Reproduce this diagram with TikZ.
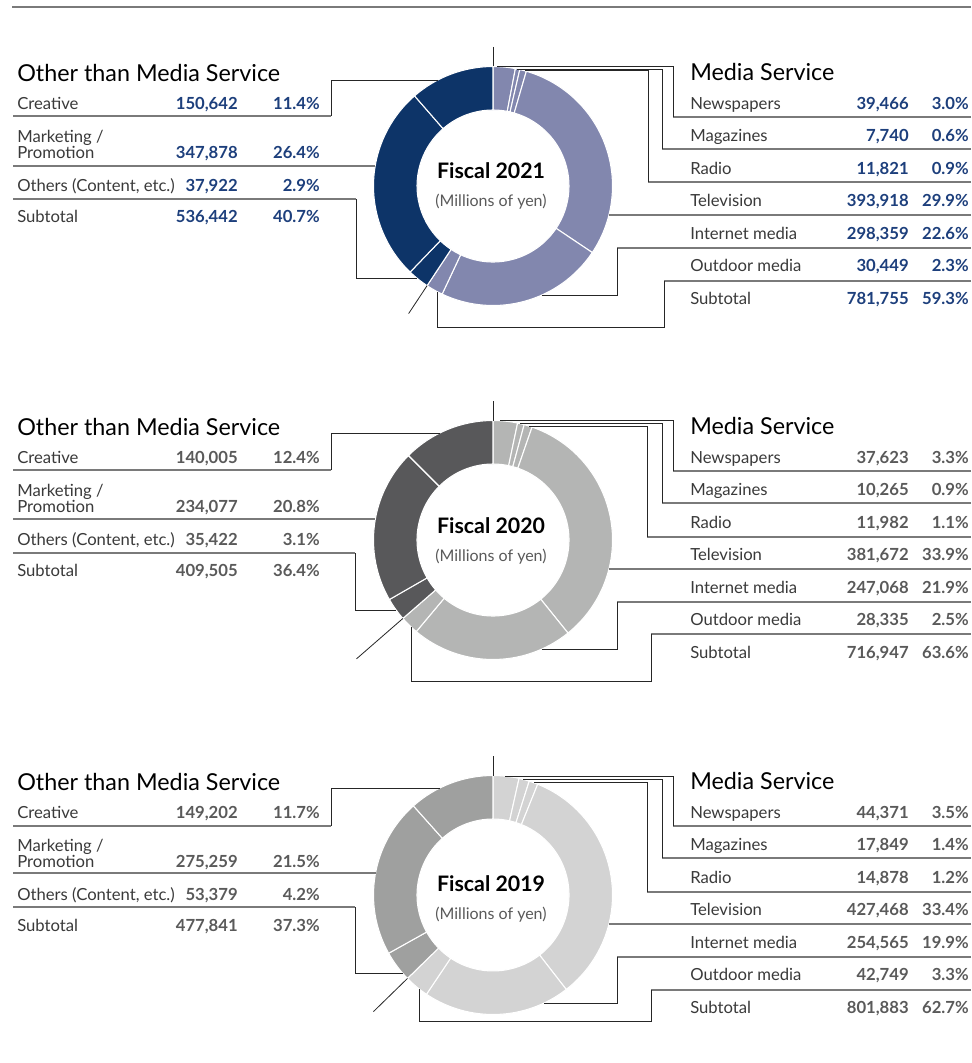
\documentclass[tikz,border=0pt]{standalone}
\usepackage{fontspec}
\setmainfont{Lato}
\usepackage{xcolor}
\definecolor{navytext}{HTML}{1D3F7C}
\definecolor{graytext}{HTML}{5A5A5A}
\definecolor{labeltext}{HTML}{3A3A3A}
\definecolor{rulegray}{HTML}{7A7A7A}
\definecolor{other21}{HTML}{0D3468}
\definecolor{media21}{HTML}{8287AE}
\definecolor{other20}{HTML}{58585A}
\definecolor{media20}{HTML}{B4B5B4}
\definecolor{other19}{HTML}{9FA09F}
\definecolor{media19}{HTML}{D3D3D3}

\begin{document}
\begin{tikzpicture}[x=0.75pt,y=-0.75pt,
    every node/.style={inner sep=0pt},
    head/.style={anchor=base west,font=\fontsize{17.5}{20}\selectfont},
    lbl/.style={anchor=base west,text=labeltext,font=\fontsize{12.5}{14}\selectfont},
    val/.style={anchor=base east,text=#1,font=\bfseries\fontsize{12.5}{14}\selectfont},
    yearlbl/.style={anchor=base,font=\bfseries\fontsize{16}{18}\selectfont},
    unitlbl/.style={anchor=base,text=graytext,font=\fontsize{12}{14}\selectfont},
    rowrule/.style={draw=rulegray,line width=1.2pt},
    leader/.style={draw=black!85,line width=0.6pt},
    slice/.style={draw=white,line width=0.8pt}]
    \useasboundingbox[fill=white] (0,0) rectangle (971,1063);
    \draw[rowrule] (12,7) -- (971,7);

    % First panel (Fiscal 2021)
    \coordinate (c21) at (493,186);
    \begin{scope}[shift={(c21)}]
    \fill[media21,slice] (-90:119.5) arc[start angle=-90,end angle=-79.2,radius=119.5] -- (-79.2:76) arc[start angle=-79.2,end angle=-90,radius=76] -- cycle;
    \fill[media21,slice] (-79.2:119.5) arc[start angle=-79.2,end angle=-77.04,radius=119.5] -- (-77.04:76) arc[start angle=-77.04,end angle=-79.2,radius=76] -- cycle;
    \fill[media21,slice] (-77.04:119.5) arc[start angle=-77.04,end angle=-73.8,radius=119.5] -- (-73.8:76) arc[start angle=-73.8,end angle=-77.04,radius=76] -- cycle;
    \fill[media21,slice] (-73.8:119.5) arc[start angle=-73.8,end angle=33.84,radius=119.5] -- (33.84:76) arc[start angle=33.84,end angle=-73.8,radius=76] -- cycle;
    \fill[media21,slice] (33.84:119.5) arc[start angle=33.84,end angle=115.2,radius=119.5] -- (115.2:76) arc[start angle=115.2,end angle=33.84,radius=76] -- cycle;
    \fill[media21,slice] (115.2:119.5) arc[start angle=115.2,end angle=123.48,radius=119.5] -- (123.48:76) arc[start angle=123.48,end angle=115.2,radius=76] -- cycle;
    \fill[other21,slice] (123.48:119.5) arc[start angle=123.48,end angle=133.92,radius=119.5] -- (133.92:76) arc[start angle=133.92,end angle=123.48,radius=76] -- cycle;
    \fill[other21,slice] (133.92:119.5) arc[start angle=133.92,end angle=228.96,radius=119.5] -- (228.96:76) arc[start angle=228.96,end angle=133.92,radius=76] -- cycle;
    \fill[other21,slice] (228.96:119.5) arc[start angle=228.96,end angle=270,radius=119.5] -- (270:76) arc[start angle=270,end angle=228.96,radius=76] -- cycle;
    \coordinate (d21top) at (-90:119.5);
    \coordinate (d21cut) at (123.48:119.5);
    \coordinate (d21cutx) at (123.48:153);
    \coordinate (d21nws) at (-88:119.5);
    \coordinate (d21mag) at (-78.3:119.5);
    \coordinate (d21rad) at (-74.5:119.5);
    \coordinate (d21tv) at (14.04:119.5);
    \coordinate (d21int) at (65.8:119.5);
    \coordinate (d21out) at (117.9:119.5);
    \coordinate (d21cre) at (242.5:119.5);
    \coordinate (d21mkt) at (189.6:119.5);
    \coordinate (d21oth) at (129.7:119.5);
    \end{scope}
    \node[yearlbl] (fy21) at (491,178.3) {Fiscal 2021};
    \node[unitlbl] (unit21) at (491,206.7) {(Millions of yen)};
    \draw[leader] (493,47) coordinate (t21) -- (d21top);
    \draw[leader] (d21cut) -- (d21cutx);

    % Other than Media Service (2021)
    \node[head] (oth21h) at (17,81) {Other than Media Service};
    \node[lbl] (cre21) at (17,109.3) {Creative};
    \node[val=navytext] (cre21v) at (238,109.3) {150,642};
    \node[val=navytext] (cre21p) at (320,109.3) {11.4\%};
    \node[lbl] (mkt21) at (17,142.7) {Marketing /};
    \node[lbl] (pro21) at (17,158.3) {Promotion};
    \node[val=navytext] (mkt21v) at (238,158.3) {347,878};
    \node[val=navytext] (mkt21p) at (320,158.3) {26.4\%};
    \node[lbl] (oth21) at (17,191) {Others (Content, etc.)};
    \node[val=navytext] (oth21v) at (238,191) {37,922};
    \node[val=navytext] (oth21p) at (320,191) {2.9\%};
    \node[lbl] (sub21l) at (17,222.7) {Subtotal};
    \node[val=navytext] (sub21lv) at (238,222.7) {536,442};
    \node[val=navytext] (sub21lp) at (320,222.7) {40.7\%};
    \draw[rowrule] (13,116) -- (331,116) coordinate (cre21k);
    \draw[leader] (cre21k) |- (d21cre);
    \draw[rowrule] (13,166) coordinate (mkt21e) -- (mkt21e -| d21mkt);
    \draw[rowrule] (13,199) -- (356,199) coordinate (oth21k);
    \draw[leader] (oth21k) |- (d21oth);

    % Media Service (2021)
    \node[head] (med21h) at (690,80.7) {Media Service};
    \node[lbl] (nws21) at (690,109) {Newspapers};
    \node[val=navytext] (nws21v) at (909,109) {39,466};
    \node[val=navytext] (nws21p) at (969,109) {3.0\%};
    \node[lbl] (mag21) at (690,141.7) {Magazines};
    \node[val=navytext] (mag21v) at (909,141.7) {7,740};
    \node[val=navytext] (mag21p) at (969,141.7) {0.6\%};
    \node[lbl] (rad21) at (690,174) {Radio};
    \node[val=navytext] (rad21v) at (909,174) {11,821};
    \node[val=navytext] (rad21p) at (969,174) {0.9\%};
    \node[lbl] (tv21) at (690,206.7) {Television};
    \node[val=navytext] (tv21v) at (909,206.7) {393,918};
    \node[val=navytext] (tv21p) at (969,206.7) {29.9\%};
    \node[lbl] (int21) at (690,239.3) {Internet media};
    \node[val=navytext] (int21v) at (909,239.3) {298,359};
    \node[val=navytext] (int21p) at (969,239.3) {22.6\%};
    \node[lbl] (out21) at (690,271.7) {Outdoor media};
    \node[val=navytext] (out21v) at (909,271.7) {30,449};
    \node[val=navytext] (out21p) at (969,271.7) {2.3\%};
    \node[lbl] (sub21r) at (690,304.3) {Subtotal};
    \node[val=navytext] (sub21rv) at (909,304.3) {781,755};
    \node[val=navytext] (sub21rp) at (969,304.3) {59.3\%};
    \draw[rowrule] (971,117) -- (673,117) coordinate (nws21k);
    \draw[leader] (nws21k) |- (d21nws);
    \draw[rowrule] (971,149) -- (662,149) coordinate (mag21k);
    \draw[leader] (mag21k) |- (d21mag);
    \draw[rowrule] (971,182) -- (648,182) coordinate (rad21k);
    \draw[leader] (rad21k) |- (d21rad);
    \draw[rowrule] (971,215) coordinate (tv21e) -- (tv21e -| d21tv);
    \draw[rowrule] (971,248) -- (617,248) coordinate (int21k);
    \draw[leader] (int21k) |- (d21int);
    \draw[rowrule] (971,281) -- (664,281) coordinate (out21k);
    \draw[leader] (out21k) -- (664,327) -| (d21out);

    % Second panel (Fiscal 2020)
    \coordinate (c20) at (493,540);
    \begin{scope}[shift={(c20)}]
    \fill[media20,slice] (-90:119.5) arc[start angle=-90,end angle=-78.12,radius=119.5] -- (-78.12:76) arc[start angle=-78.12,end angle=-90,radius=76] -- cycle;
    \fill[media20,slice] (-78.12:119.5) arc[start angle=-78.12,end angle=-74.88,radius=119.5] -- (-74.88:76) arc[start angle=-74.88,end angle=-78.12,radius=76] -- cycle;
    \fill[media20,slice] (-74.88:119.5) arc[start angle=-74.88,end angle=-70.92,radius=119.5] -- (-70.92:76) arc[start angle=-70.92,end angle=-74.88,radius=76] -- cycle;
    \fill[media20,slice] (-70.92:119.5) arc[start angle=-70.92,end angle=51.12,radius=119.5] -- (51.12:76) arc[start angle=51.12,end angle=-70.92,radius=76] -- cycle;
    \fill[media20,slice] (51.12:119.5) arc[start angle=51.12,end angle=129.96,radius=119.5] -- (129.96:76) arc[start angle=129.96,end angle=51.12,radius=76] -- cycle;
    \fill[media20,slice] (129.96:119.5) arc[start angle=129.96,end angle=138.96,radius=119.5] -- (138.96:76) arc[start angle=138.96,end angle=129.96,radius=76] -- cycle;
    \fill[other20,slice] (138.96:119.5) arc[start angle=138.96,end angle=150.12,radius=119.5] -- (150.12:76) arc[start angle=150.12,end angle=138.96,radius=76] -- cycle;
    \fill[other20,slice] (150.12:119.5) arc[start angle=150.12,end angle=225,radius=119.5] -- (225:76) arc[start angle=225,end angle=150.12,radius=76] -- cycle;
    \fill[other20,slice] (225:119.5) arc[start angle=225,end angle=270,radius=119.5] -- (270:76) arc[start angle=270,end angle=225,radius=76] -- cycle;
    \coordinate (d20top) at (-90:119.5);
    \coordinate (d20cut) at (138.96:119.5);
    \coordinate (d20cutx) at (138.96:181);
    \coordinate (d20nws) at (-86.5:119.5);
    \coordinate (d20mag) at (-77:119.5);
    \coordinate (d20rad) at (-72.5:119.5);
    \coordinate (d20tv) at (14.04:119.5);
    \coordinate (d20int) at (65.8:119.5);
    \coordinate (d20out) at (133.3:119.5);
    \coordinate (d20cre) at (243.6:119.5);
    \coordinate (d20mkt) at (190.1:119.5);
    \coordinate (d20oth) at (144.2:119.5);
    \end{scope}
    \node[yearlbl] (fy20) at (491,533) {Fiscal 2020};
    \node[unitlbl] (unit20) at (491,561) {(Millions of yen)};
    \draw[leader] (493,401) coordinate (t20) -- (d20top);
    \draw[leader] (d20cut) -- (d20cutx);

    % Other than Media Service (2020)
    \node[head] (oth20h) at (17,435) {Other than Media Service};
    \node[lbl] (cre20) at (17,463.3) {Creative};
    \node[val=graytext] (cre20v) at (238,463.3) {140,005};
    \node[val=graytext] (cre20p) at (320,463.3) {12.4\%};
    \node[lbl] (mkt20) at (17,496.7) {Marketing /};
    \node[lbl] (pro20) at (17,512.3) {Promotion};
    \node[val=graytext] (mkt20v) at (238,512.3) {234,077};
    \node[val=graytext] (mkt20p) at (320,512.3) {20.8\%};
    \node[lbl] (oth20) at (17,545) {Others (Content, etc.)};
    \node[val=graytext] (oth20v) at (238,545) {35,422};
    \node[val=graytext] (oth20p) at (320,545) {3.1\%};
    \node[lbl] (sub20l) at (17,576.7) {Subtotal};
    \node[val=graytext] (sub20lv) at (238,576.7) {409,505};
    \node[val=graytext] (sub20lp) at (320,576.7) {36.4\%};
    \draw[rowrule] (13,470) -- (331,470) coordinate (cre20k);
    \draw[leader] (cre20k) |- (d20cre);
    \draw[rowrule] (13,519) coordinate (mkt20e) -- (mkt20e -| d20mkt);
    \draw[rowrule] (13,553) -- (355,553) coordinate (oth20k);
    \draw[leader] (oth20k) |- (d20oth);

    % Media Service (2020)
    \node[head] (med20h) at (690,434.7) {Media Service};
    \node[lbl] (nws20) at (690,463) {Newspapers};
    \node[val=graytext] (nws20v) at (909,463) {37,623};
    \node[val=graytext] (nws20p) at (969,463) {3.3\%};
    \node[lbl] (mag20) at (690,495.7) {Magazines};
    \node[val=graytext] (mag20v) at (909,495.7) {10,265};
    \node[val=graytext] (mag20p) at (969,495.7) {0.9\%};
    \node[lbl] (rad20) at (690,528) {Radio};
    \node[val=graytext] (rad20v) at (909,528) {11,982};
    \node[val=graytext] (rad20p) at (969,528) {1.1\%};
    \node[lbl] (tv20) at (690,560.7) {Television};
    \node[val=graytext] (tv20v) at (909,560.7) {381,672};
    \node[val=graytext] (tv20p) at (969,560.7) {33.9\%};
    \node[lbl] (int20) at (690,593.3) {Internet media};
    \node[val=graytext] (int20v) at (909,593.3) {247,068};
    \node[val=graytext] (int20p) at (969,593.3) {21.9\%};
    \node[lbl] (out20) at (690,625.7) {Outdoor media};
    \node[val=graytext] (out20v) at (909,625.7) {28,335};
    \node[val=graytext] (out20p) at (969,625.7) {2.5\%};
    \node[lbl] (sub20r) at (690,658.3) {Subtotal};
    \node[val=graytext] (sub20rv) at (909,658.3) {716,947};
    \node[val=graytext] (sub20rp) at (969,658.3) {63.6\%};
    \draw[rowrule] (971,471) -- (673,471) coordinate (nws20k);
    \draw[leader] (nws20k) |- (d20nws);
    \draw[rowrule] (971,503) -- (662,503) coordinate (mag20k);
    \draw[leader] (mag20k) |- (d20mag);
    \draw[rowrule] (971,537) -- (647,537) coordinate (rad20k);
    \draw[leader] (rad20k) |- (d20rad);
    \draw[rowrule] (971,569) coordinate (tv20e) -- (tv20e -| d20tv);
    \draw[rowrule] (971,602) -- (617,602) coordinate (int20k);
    \draw[leader] (int20k) |- (d20int);
    \draw[rowrule] (971,634) -- (651,634) coordinate (out20k);
    \draw[leader] (out20k) -- (651,681) -| (d20out);

    % Third panel (Fiscal 2019)
    \coordinate (c19) at (493,895);
    \begin{scope}[shift={(c19)}]
    \fill[media19,slice] (-90:119.5) arc[start angle=-90,end angle=-77.4,radius=119.5] -- (-77.4:76) arc[start angle=-77.4,end angle=-90,radius=76] -- cycle;
    \fill[media19,slice] (-77.4:119.5) arc[start angle=-77.4,end angle=-72.36,radius=119.5] -- (-72.36:76) arc[start angle=-72.36,end angle=-77.4,radius=76] -- cycle;
    \fill[media19,slice] (-72.36:119.5) arc[start angle=-72.36,end angle=-68.04,radius=119.5] -- (-68.04:76) arc[start angle=-68.04,end angle=-72.36,radius=76] -- cycle;
    \fill[media19,slice] (-68.04:119.5) arc[start angle=-68.04,end angle=52.2,radius=119.5] -- (52.2:76) arc[start angle=52.2,end angle=-68.04,radius=76] -- cycle;
    \fill[media19,slice] (52.2:119.5) arc[start angle=52.2,end angle=123.84,radius=119.5] -- (123.84:76) arc[start angle=123.84,end angle=52.2,radius=76] -- cycle;
    \fill[media19,slice] (123.84:119.5) arc[start angle=123.84,end angle=135.72,radius=119.5] -- (135.72:76) arc[start angle=135.72,end angle=123.84,radius=76] -- cycle;
    \fill[other19,slice] (135.72:119.5) arc[start angle=135.72,end angle=150.84,radius=119.5] -- (150.84:76) arc[start angle=150.84,end angle=135.72,radius=76] -- cycle;
    \fill[other19,slice] (150.84:119.5) arc[start angle=150.84,end angle=228.24,radius=119.5] -- (228.24:76) arc[start angle=228.24,end angle=150.84,radius=76] -- cycle;
    \fill[other19,slice] (228.24:119.5) arc[start angle=228.24,end angle=270,radius=119.5] -- (270:76) arc[start angle=270,end angle=228.24,radius=76] -- cycle;
    \coordinate (d19top) at (-90:119.5);
    \coordinate (d19cut) at (135.72:119.5);
    \coordinate (d19cutx) at (135.72:167);
    \coordinate (d19nws) at (-84:119.5);
    \coordinate (d19mag) at (-75.5:119.5);
    \coordinate (d19rad) at (-70:119.5);
    \coordinate (d19tv) at (14.04:119.5);
    \coordinate (d19int) at (64.6:119.5);
    \coordinate (d19out) at (128.3:119.5);
    \coordinate (d19cre) at (243.6:119.5);
    \coordinate (d19mkt) at (190.6:119.5);
    \coordinate (d19oth) at (139.2:119.5);
    \end{scope}
    \node[yearlbl] (fy19) at (491,891) {Fiscal 2019};
    \node[unitlbl] (unit19) at (491,919.5) {(Millions of yen)};
    \draw[leader] (493,756) coordinate (t19) -- (d19top);
    \draw[leader] (d19cut) -- (d19cutx);

    % Other than Media Service (2019)
    \node[head] (oth19h) at (17,790) {Other than Media Service};
    \node[lbl] (cre19) at (17,818.3) {Creative};
    \node[val=graytext] (cre19v) at (238,818.3) {149,202};
    \node[val=graytext] (cre19p) at (320,818.3) {11.7\%};
    \node[lbl] (mkt19) at (17,851.7) {Marketing /};
    \node[lbl] (pro19) at (17,867.3) {Promotion};
    \node[val=graytext] (mkt19v) at (238,867.3) {275,259};
    \node[val=graytext] (mkt19p) at (320,867.3) {21.5\%};
    \node[lbl] (oth19) at (17,900) {Others (Content, etc.)};
    \node[val=graytext] (oth19v) at (238,900) {53,379};
    \node[val=graytext] (oth19p) at (320,900) {4.2\%};
    \node[lbl] (sub19l) at (17,931.7) {Subtotal};
    \node[val=graytext] (sub19lv) at (238,931.7) {477,841};
    \node[val=graytext] (sub19lp) at (320,931.7) {37.3\%};
    \draw[rowrule] (13,826) -- (331,826) coordinate (cre19k);
    \draw[leader] (cre19k) |- (d19cre);
    \draw[rowrule] (13,873) coordinate (mkt19e) -- (mkt19e -| d19mkt);
    \draw[rowrule] (13,907) -- (355,907) coordinate (oth19k);
    \draw[leader] (oth19k) |- (d19oth);

    % Media Service (2019)
    \node[head] (med19h) at (690,789.7) {Media Service};
    \node[lbl] (nws19) at (690,818) {Newspapers};
    \node[val=graytext] (nws19v) at (909,818) {44,371};
    \node[val=graytext] (nws19p) at (969,818) {3.5\%};
    \node[lbl] (mag19) at (690,850.7) {Magazines};
    \node[val=graytext] (mag19v) at (909,850.7) {17,849};
    \node[val=graytext] (mag19p) at (969,850.7) {1.4\%};
    \node[lbl] (rad19) at (690,883) {Radio};
    \node[val=graytext] (rad19v) at (909,883) {14,878};
    \node[val=graytext] (rad19p) at (969,883) {1.2\%};
    \node[lbl] (tv19) at (690,915.7) {Television};
    \node[val=graytext] (tv19v) at (909,915.7) {427,468};
    \node[val=graytext] (tv19p) at (969,915.7) {33.4\%};
    \node[lbl] (int19) at (690,948.3) {Internet media};
    \node[val=graytext] (int19v) at (909,948.3) {254,565};
    \node[val=graytext] (int19p) at (969,948.3) {19.9\%};
    \node[lbl] (out19) at (690,980.7) {Outdoor media};
    \node[val=graytext] (out19v) at (909,980.7) {42,749};
    \node[val=graytext] (out19p) at (969,980.7) {3.3\%};
    \node[lbl] (sub19r) at (690,1013.3) {Subtotal};
    \node[val=graytext] (sub19rv) at (909,1013.3) {801,883};
    \node[val=graytext] (sub19rp) at (969,1013.3) {62.7\%};
    \draw[rowrule] (971,826) -- (673,826) coordinate (nws19k);
    \draw[leader] (nws19k) |- (d19nws);
    \draw[rowrule] (971,858) -- (662,858) coordinate (mag19k);
    \draw[leader] (mag19k) |- (d19mag);
    \draw[rowrule] (971,892) -- (647,892) coordinate (rad19k);
    \draw[leader] (rad19k) |- (d19rad);
    \draw[rowrule] (971,924) coordinate (tv19e) -- (tv19e -| d19tv);
    \draw[rowrule] (971,957) -- (617,957) coordinate (int19k);
    \draw[leader] (int19k) |- (d19int);
    \draw[rowrule] (971,990) -- (651,990) coordinate (out19k);
    \draw[leader] (out19k) -- (651,1021) -| (d19out);
\end{tikzpicture}
\end{document}
